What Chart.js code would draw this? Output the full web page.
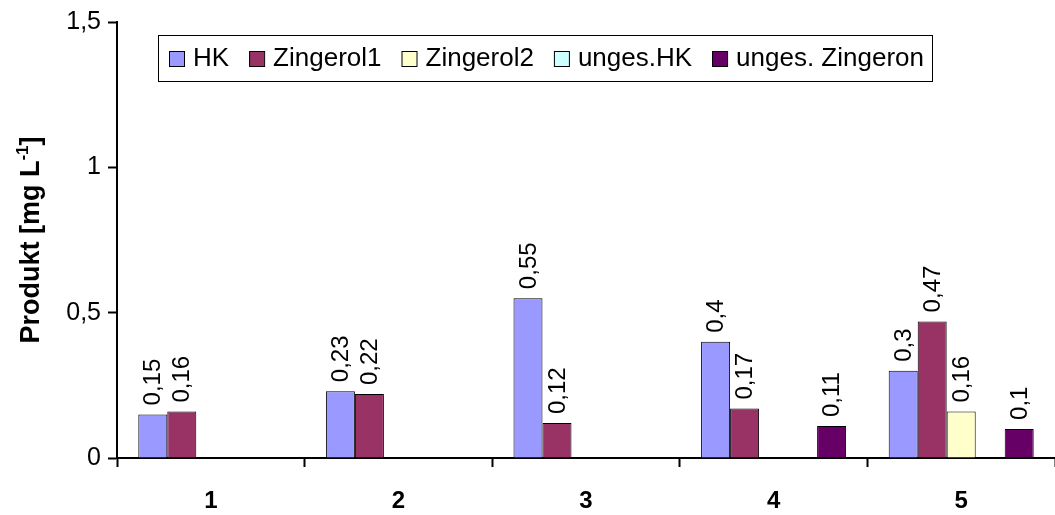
<!DOCTYPE html>
<html>
<head>
<meta charset="utf-8">
<script src="https://cdn.jsdelivr.net/npm/chart.js@4"></script>
<style>
  html, body { margin: 0; padding: 0; background: #ffffff; }
  #wrap { width: 1055px; height: 515px; position: relative; }
</style>
</head>
<body>
<div id="wrap"><canvas id="productChart"></canvas></div>
<script>
// Samples and measured products
const categories = ['1', '2', '3', '4', '5'];
const seriesNames = ['HK', 'Zingerol1', 'Zingerol2', 'unges.HK', 'unges. Zingeron'];
const seriesColors = ['#9999FF', '#993366', '#FFFFCC', '#CCFFFF', '#660066'];

const hk = [0.15, 0.23, 0.55, 0.4, 0.3];
const zingerol1 = [0.16, 0.22, 0.12, 0.17, 0.47];
const zingerol2 = [null, null, null, null, 0.16];
const ungesHk = [null, null, null, null, null];
const ungesZingeron = [null, null, null, 0.11, 0.1];

const yTicks = [0, 0.5, 1, 1.5];

const FONT = "'Liberation Sans', Arial, sans-serif";

function comma(v) {
    return String(v).replace('.', ',');
}

// Rotated value labels above each bar
const valueLabels = {
    id: 'valueLabels',
    afterDatasetsDraw(chart) {
        const ctx = chart.ctx;
        ctx.save();
        ctx.font = '24px ' + FONT;
        ctx.fillStyle = '#000';
        ctx.textAlign = 'left';
        ctx.textBaseline = 'middle';
        chart.data.datasets.forEach((ds, i) => {
            const meta = chart.getDatasetMeta(i);
            meta.data.forEach((bar, j) => {
                const v = ds.data[j];
                if (v === null || v === undefined) return;
                ctx.save();
                ctx.translate(bar.x + 1, bar.y - 9);
                ctx.rotate(-Math.PI / 2);
                ctx.fillText(comma(v), 0, 0);
                ctx.restore();
            });
        });
        ctx.restore();
    }
};

// Boxed legend inside the plot area
const boxLegend = {
    id: 'boxLegend',
    afterDraw(chart) {
        const ctx = chart.ctx;
        const box = { x: 158, y: 35, w: 774, h: 46 };
        ctx.save();
        ctx.fillStyle = '#fff';
        ctx.fillRect(box.x, box.y, box.w, box.h);
        ctx.strokeStyle = '#000';
        ctx.lineWidth = 1;
        ctx.strokeRect(box.x + 0.5, box.y + 0.5, box.w, box.h);
        ctx.font = '26px ' + FONT;
        ctx.textBaseline = 'middle';
        const cy = box.y + box.h / 2 + 1;
        let x = 169;
        seriesNames.forEach((name, i) => {
            ctx.fillStyle = seriesColors[i];
            ctx.fillRect(x, cy - 8, 15, 15);
            ctx.strokeStyle = '#000';
            ctx.strokeRect(x + 0.5, cy - 7.5, 15, 15);
            ctx.fillStyle = '#000';
            ctx.fillText(name, x + 24, cy);
            x += 24 + ctx.measureText(name).width + 20;
        });
        ctx.restore();
    }
};

// Y axis title with superscript unit
const yTitle = {
    id: 'yTitle',
    afterDraw(chart) {
        const ctx = chart.ctx;
        const area = chart.chartArea;
        const main = 'Produkt [mg L';
        const sup = '-1';
        const end = ']';
        ctx.save();
        ctx.fillStyle = '#000';
        ctx.textBaseline = 'alphabetic';
        ctx.font = 'bold 27px ' + FONT;
        const wMain = ctx.measureText(main).width;
        const wEnd = ctx.measureText(end).width;
        ctx.font = 'bold 17px ' + FONT;
        const wSup = ctx.measureText(sup).width;
        const total = wMain + wSup + wEnd;
        ctx.translate(39, (area.top + area.bottom) / 2);
        ctx.rotate(-Math.PI / 2);
        let x = -total / 2;
        ctx.font = 'bold 27px ' + FONT;
        ctx.fillText(main, x, 0);
        x += wMain;
        ctx.font = 'bold 17px ' + FONT;
        ctx.fillText(sup, x, -11);
        x += wSup;
        ctx.font = 'bold 27px ' + FONT;
        ctx.fillText(end, x, 0);
        ctx.restore();
    }
};

const datasetValues = [hk, zingerol1, zingerol2, ungesHk, ungesZingeron];

const ctx = document.getElementById('productChart').getContext('2d');
new Chart(ctx, {
    type: 'bar',
    data: {
        labels: categories,
        datasets: seriesNames.map((name, i) => ({
            label: name,
            data: datasetValues[i],
            backgroundColor: seriesColors[i],
            borderColor: '#000',
            borderWidth: 1,
            categoryPercentage: 0.773,
            barPercentage: 1
        }))
    },
    options: {
        responsive: true,
        maintainAspectRatio: false,
        animation: false,
        layout: { padding: { top: 20, right: 0, bottom: 0, left: 0 } },
        plugins: {
            legend: { display: false },
            tooltip: { enabled: false }
        },
        scales: {
            x: {
                afterFit(scale) {
                    scale.height = 57;
                },
                grid: {
                    drawOnChartArea: false,
                    tickLength: 9,
                    tickColor: '#000',
                    tickWidth: 2,
                    offset: true
                },
                border: { color: '#000', width: 2 },
                ticks: {
                    color: '#000',
                    padding: 20,
                    font: { family: FONT, size: 24, weight: 'bold' }
                }
            },
            y: {
                min: 0,
                max: 1.5,
                afterBuildTicks(scale) {
                    scale.ticks = yTicks.map(v => ({ value: v }));
                },
                afterFit(scale) {
                    scale.width = 117;
                },
                grid: {
                    drawOnChartArea: false,
                    tickLength: 9,
                    tickColor: '#000',
                    tickWidth: 2
                },
                border: { color: '#000', width: 2 },
                ticks: {
                    color: '#000',
                    padding: 7,
                    font: { family: FONT, size: 25 },
                    callback: v => comma(v)
                }
            }
        }
    },
    plugins: [valueLabels, boxLegend, yTitle]
});
</script>
</body>
</html>
